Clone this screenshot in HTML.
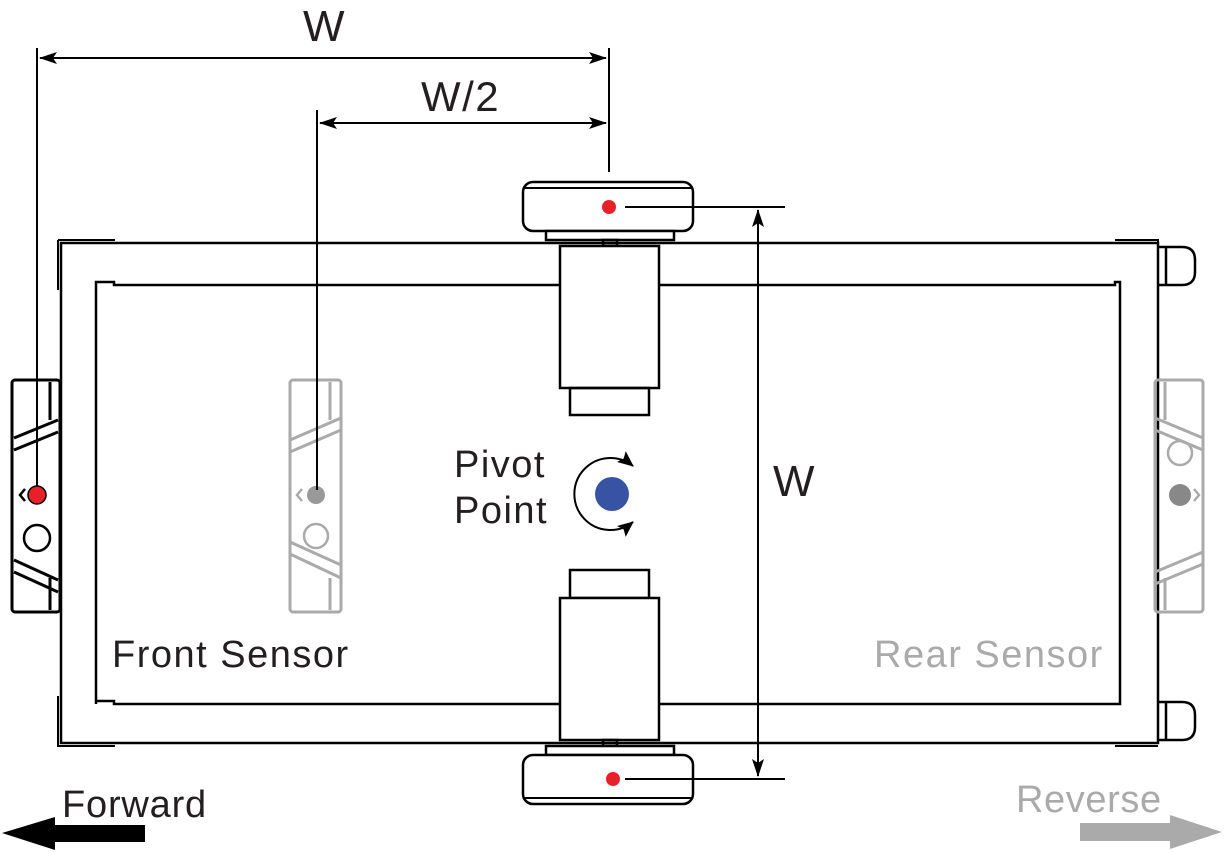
<!DOCTYPE html>
<html><head><style>body{margin:0;background:#fff}svg{display:block}text{font-family:"Liberation Sans",sans-serif}</style></head><body>
<svg width="1224" height="852" viewBox="0 0 1224 852" xmlns="http://www.w3.org/2000/svg">
<defs><marker id="a" markerWidth="18" markerHeight="12" refX="17" refY="6" orient="auto-start-reverse" markerUnits="userSpaceOnUse"><path d="M0,0 L18,6 L0,12 L4,6z" fill="#000"/></marker>
<marker id="b" markerWidth="16" markerHeight="14" refX="15" refY="7" orient="auto-start-reverse" markerUnits="userSpaceOnUse"><path d="M0,0 L16,7 L0,14 L3,7z" fill="#000"/></marker></defs>
<g fill="none" stroke="#000" stroke-width="2.5">
<rect x="61" y="243" width="1097" height="500" fill="#fff"/>
<path d="M96,704 V282 H114 V285 H1115 V282 H1120 V704 H114 V701 H96"/>
<path d="M58,240 H115 M58,240 V290 M58,696 V746 H115" stroke-width="2"/>
<path d="M1115,240 H1158 V287 M1115,746 H1158" stroke-width="2"/>
<path d="M1158,247 H1182 Q1195,247 1195,260 V272 Q1195,285 1182,285 H1158 M1166,247 V285"/>
<path d="M1158,702 H1182 Q1195,702 1195,715 V727 Q1195,740 1182,740 H1158 M1166,702 V740"/>
<rect x="523" y="182" width="170" height="49" rx="10" fill="#fff"/>
<line x1="523" y1="188" x2="693" y2="188" stroke-width="2"/>
<rect x="546" y="231" width="128" height="9" fill="#fff"/>
<rect x="603" y="240" width="14" height="6"/>
<rect x="560" y="246" width="99" height="142" fill="#fff"/>
<rect x="570" y="388" width="79" height="27"/>
<rect x="570" y="570" width="79" height="28"/>
<rect x="560" y="598" width="99" height="142" fill="#fff"/>
<rect x="603" y="740" width="14" height="6"/>
<rect x="546" y="746" width="128" height="9" fill="#fff"/>
<rect x="523" y="755" width="170" height="49" rx="10" fill="#fff"/>
<line x1="523" y1="798" x2="693" y2="798" stroke-width="2"/>
</g>
<g fill="none" stroke="#aaa" stroke-width="3">
<rect x="290" y="380" width="51" height="232" rx="3"/>
<path d="M290,440 L341,418 M290,452 L341,430 M290,542 L341,565 M290,554 L341,578 M330,382 V420 M330,578 V610"/>
<circle cx="316" cy="536" r="12" stroke-width="2.5"/>
<rect x="1155" y="380" width="48" height="232" rx="3"/>
<path d="M1155,430 L1203,450 M1155,418 L1203,438 M1155,572 L1203,552 M1155,584 L1203,564 M1165,382 V420 M1165,578 V610"/>
<circle cx="1180" cy="453" r="12" stroke-width="2.5"/>
<path d="M302,489 L297,495 L302,501" stroke-width="2.5"/>
<path d="M1194,489 L1199,495 L1194,501" stroke-width="2.5"/>
</g>
<circle cx="316" cy="495" r="9" fill="#999"/>
<circle cx="1180" cy="495" r="11" fill="#888"/>
<g fill="none" stroke="#000" stroke-width="3">
<rect x="12" y="380" width="48" height="232" rx="3"/>
<path d="M14,438 L58,420 M14,450 L58,432 M14,560 L58,580 M14,572 L58,592 M50,382 V420 M50,578 V610"/>
<circle cx="37" cy="538" r="13" stroke-width="2.5"/>
<path d="M25,489 L20,495 L25,501" stroke-width="2.5"/>
</g>
<circle cx="37" cy="495" r="9" fill="#e8202a" stroke="#000" stroke-width="1.5"/>
<g stroke="#000" stroke-width="2" fill="none">
<line x1="37" y1="48" x2="37" y2="486"/>
<line x1="609" y1="48" x2="609" y2="172"/>
<line x1="40" y1="58" x2="606" y2="58" marker-start="url(#a)" marker-end="url(#a)"/>
<line x1="317" y1="110" x2="317" y2="490"/>
<line x1="320" y1="123" x2="606" y2="123" marker-start="url(#a)" marker-end="url(#a)"/>
<line x1="625" y1="207" x2="785" y2="207"/>
<line x1="625" y1="779" x2="785" y2="779"/>
<line x1="758" y1="210" x2="758" y2="776" marker-start="url(#a)" marker-end="url(#a)"/>
<path d="M633,466 A36,36 0 1 0 633,522" marker-start="url(#b)" marker-end="url(#b)"/>
</g>
<circle cx="612" cy="494" r="17" fill="#3853a4"/>
<circle cx="609" cy="207" r="7" fill="#e8202a"/>
<circle cx="613" cy="779" r="7" fill="#e8202a"/>
<g font-size="38" fill="#231f20" letter-spacing="1.5">
<text x="303" y="41" font-size="44">W</text>
<text x="421" y="111" font-size="42">W/2</text>
<text x="773" y="496" font-size="44">W</text>
<text x="454" y="477">Pivot</text>
<text x="454" y="523">Point</text>
<text x="112" y="667">Front Sensor</text>
<text x="874" y="667" fill="#aaa">Rear Sensor</text>
<text x="62" y="817" letter-spacing="0.8">Forward</text>
<text x="1016" y="812" fill="#aaa" letter-spacing="0.6">Reverse</text>
</g>
<path d="M2,833 L55,817 V825 H145 V842 H55 V850 Z" fill="#000"/>
<path d="M1222,832 L1170,815 V823 H1080 V841 H1170 V849 Z" fill="#aaa"/>
</svg>
</body></html>
